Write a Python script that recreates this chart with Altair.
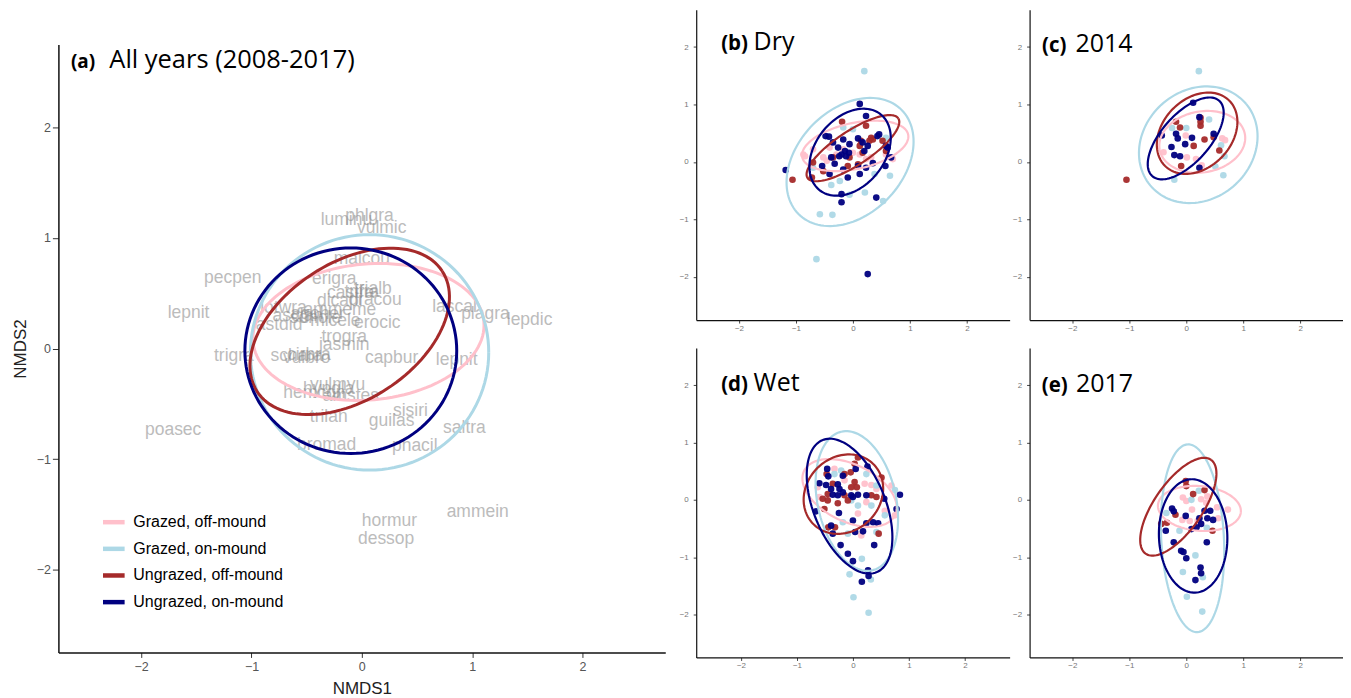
import math
import pandas as pd
import altair as alt

GROUPS = ["Grazed, off-mound", "Grazed, on-mound", "Ungrazed, off-mound", "Ungrazed, on-mound"]
GROUP_KEYS = ["g_off", "g_on", "u_off", "u_on"]
COLORS = ["#FFC0CB", "#ADD8E6", "#A52A2A", "#000080"]
TICKS = [-2, -1, 0, 1, 2]

# species scores shown in panel (a)
SPECIES = ["phlgra", "luminu", "vulmic", "malcou", "pecpen", "erigra", "trialb", "castra",
           "trifra", "dicapi", "dracou", "lotwra", "ammeme", "asclan", "agoher", "sonole",
           "micele", "astdid", "lascal", "plagra", "lepdic", "lepnit", "erocic", "trogra",
           "jasmin", "trigra", "schara", "vulbro", "cirbra", "capbur", "lepnit", "vulmyu",
           "hemcon", "hypgla", "amstes", "sisiri", "trilan", "guilas", "saltra", "bromad",
           "phacil", "poasec", "ammein", "hormur", "dessop"]
SPECIES_X = [0.07, -0.14, 0.18, 0.00, -1.17, -0.25, 0.10, -0.10,
             0.00, -0.20, 0.12, -0.71, -0.20, -0.58, -0.40, -0.42,
             -0.24, -0.75, 0.84, 1.12, 1.52, -1.57, 0.14, -0.16,
             -0.16, -1.16, -0.59, -0.50, -0.48, 0.27, 0.86, -0.22,
             -0.43, -0.30, -0.10, 0.44, -0.30, 0.27, 0.93, -0.32,
             0.48, -1.71, 1.05, 0.25, 0.22]
SPECIES_Y = [1.20, 1.16, 1.09, 0.81, 0.64, 0.63, 0.54, 0.50,
             0.51, 0.43, 0.44, 0.37, 0.35, 0.29, 0.31, 0.28,
             0.25, 0.21, 0.38, 0.31, 0.26, 0.32, 0.23, 0.10,
             0.03, -0.07, -0.07, -0.09, -0.06, -0.09, -0.10, -0.33,
             -0.40, -0.37, -0.43, -0.57, -0.62, -0.66, -0.72, -0.87,
             -0.88, -0.74, -1.48, -1.56, -1.72]

# ellipse parameters per panel, in GROUPS order
ELL_CX = {"a": [0.06, 0.07, -0.11, -0.10], "b": [0.04, -0.05, 0.00, -0.05],
          "c": [0.28, 0.21, 0.19, -0.01], "d": [-0.06, 0.07, -0.17, -0.06],
          "e": [0.23, 0.11, -0.14, 0.12]}
ELL_CY = {"a": [0.15, -0.035, 0.155, -0.02], "b": [0.28, 0.00, 0.24, 0.17],
          "c": [0.35, 0.30, 0.50, 0.41], "d": [0.12, -0.02, 0.10, -0.11],
          "e": [-0.15, -0.67, -0.12, -0.63]}
ELL_A = {"a": [1.05, 1.08, 1.00, 0.96], "b": [0.95, 1.28, 0.95, 0.85],
         "c": [0.76, 1.10, 0.80, 0.88], "d": [0.90, 1.24, 0.75, 1.25],
         "e": [0.73, 1.64, 1.00, 0.99]}
ELL_B = {"a": [0.615, 1.065, 0.62, 0.93], "b": [0.40, 0.92, 0.30, 0.60],
         "c": [0.53, 0.95, 0.60, 0.42], "d": [0.50, 0.70, 0.65, 0.64],
         "e": [0.39, 0.55, 0.42, 0.60]}
ELL_ANGLE = {"a": [5, 0, 33, 0], "b": [12, 45, 33, 50], "c": [10, 40, 45, 48],
             "d": [-25, 103, 40, 113], "e": [-5, 93, 55, 92]}

# site scores for panels (b)-(e)
PTS_X = {
    "b": {
        "g_off": [-0.87, -0.84, -0.70, -0.29, -0.41, -0.17, 0.0, 0.12, 0.58, 0.70, 0.32, -0.52, -0.46, 0.23],
        "g_on": [0.20, -0.64, -0.58, -0.36, -0.06, 0.21, 0.53, 0.65, -0.38, -0.23, -0.70, 0.0, -0.17, 0.58, 0.38],
        "u_off": [-1.06, -0.19, 0.23, 0.32, 0.29, 0.14, 0.35, 0.52, 0.58, 0.12, -0.09, 0.09, -0.35, -0.52, -0.70, -0.72, -0.06, 0.17],
        "u_on": [-1.18, 0.12, 0.23, -0.48, -0.42, -0.35, -0.17, -0.26, -0.06, -0.14, -0.20, -0.07, -0.38, -0.32, -0.24, -0.12, 0.09, 0.17, 0.26, 0.20, 0.46, 0.43, 0.58, 0.61, 0.35, 0.09, -0.09, -0.17, -0.54, -0.41, -0.20, -0.20, 0.41, 0.26, 0.57, 0.67, 0.23, 0.12],
    },
    "c": {
        "g_off": [-0.01, -0.40, 0.01, 0.17, 0.68, 0.63, 0.27],
        "g_on": [0.22, 0.40, -0.25, 0.0, 0.61, 0.67, 0.51, 0.65, -0.21],
        "u_off": [-1.05, -0.18, -0.11, 0.25, 0.25, 0.25, 0.32, 0.48, 0.13, 0.58, -0.09],
        "u_on": [0.12, 0.23, -0.43, -0.18, -0.15, 0.10, -0.02, -0.26, -0.21, -0.11, 0.48, 0.23],
    },
    "d": {
        "g_off": [-0.33, -0.15, 0.21, 0.33, 0.42, 0.51, 0.69, 0.75, 0.24, 0.09, 0.57, 0.15, -0.63, -0.60],
        "g_on": [-0.21, -0.33, 0.24, 0.42, 0.75, 0.57, 0.33, -0.03, 0.09, -0.09, -0.18, 0.16, -0.06, 0.32, 0.01, 0.28, 0.42],
        "u_off": [-0.47, -0.15, 0.09, 0.03, -0.04, 0.03, 0.07, -0.03, -0.15, -0.09, -0.45, -0.54, -0.45, -0.27, 0.33, 0.42, 0.51, -0.51, -0.44, -0.32, 0.46, -0.36],
        "u_on": [-0.46, -0.44, -0.60, -0.48, -0.39, -0.27, -0.24, -0.36, -0.27, -0.18, -0.03, 0.0, 0.09, 0.05, 0.26, -0.18, -0.66, -0.25, -0.39, -0.36, -0.22, -0.09, 0.0, 0.0, 0.04, 0.18, 0.24, 0.36, 0.45, 0.38, 0.27, 0.28, 0.16, 0.84, 0.78, 0.56, 0.24],
    },
    "e": {
        "g_off": [-0.06, 0.0, 0.26, 0.37, 0.35, 0.10, -0.07, 0.06, 0.54, 0.73, 0.20, 0.56],
        "g_on": [0.22, 0.09, -0.35, -0.12, 0.16, -0.06, 0.01, 0.28, 0.29, 0.36],
        "u_off": [-0.01, 0.0, 0.12, 0.32, -0.19, -0.44, -0.34, 0.46],
        "u_on": [-0.25, -0.22, -0.36, -0.01, 0.23, 0.26, 0.18, 0.09, 0.32, 0.42, 0.37, 0.47, 0.36, -0.22, -0.09, -0.05, 0.0, 0.25, 0.26, 0.16],
    },
}
PTS_Y = {
    "b": {
        "g_off": [0.13, 0.10, 0.22, 0.13, 0.25, 0.22, 0.16, 0.13, 0.13, 0.05, 0.08, 0.08, 0.02, 0.05],
        "g_on": [1.58, -1.69, -0.91, -0.92, -0.57, -0.53, -0.68, -0.24, -0.40, -0.33, -0.10, 0.57, 0.60, 0.42, -0.21],
        "u_off": [-0.31, 0.70, 0.63, 0.42, 0.37, 0.37, 0.39, 0.37, 0.19, 0.28, -0.07, -0.04, 0.08, -0.16, -0.01, -0.27, 0.08, 0.16],
        "u_on": [-0.14, 1.01, 0.80, 0.45, 0.44, 0.34, 0.39, 0.25, 0.31, 0.19, 0.13, 0.16, 0.08, -0.03, 0.10, 0.10, 0.41, 0.34, 0.28, 0.19, 0.48, 0.45, 0.28, 0.25, -0.02, -0.07, -0.27, -0.13, -0.07, -0.21, -0.56, -0.70, -0.62, -1.95, -0.07, 0.08, -0.10, -0.21],
    },
    "c": {
        "g_off": [0.46, 0.17, 0.08, 0.05, 0.38, 0.41, -0.06],
        "g_on": [1.58, 0.74, 0.59, 0.59, 0.29, 0.10, -0.08, -0.23, -0.31],
        "u_off": [-0.31, 0.70, 0.60, 0.77, 0.70, 0.63, 0.39, 0.43, 0.28, 0.20, -0.07],
        "u_on": [1.03, 0.78, 0.46, 0.49, 0.41, 0.42, 0.31, 0.26, 0.12, 0.10, 0.49, -0.10],
    },
    "d": {
        "g_off": [0.54, 0.34, 0.28, 0.26, 0.19, 0.37, 0.25, -0.27, -0.04, -0.24, -0.19, -0.62, 0.22, 0.05],
        "g_on": [0.51, 0.45, 0.45, 0.25, 0.17, -0.27, -0.10, -0.01, -0.10, -0.59, -0.39, -1.03, -1.30, -1.39, -1.70, -1.97, -0.56],
        "u_off": [0.45, 0.45, 0.74, 0.63, 0.48, 0.31, 0.22, 0.22, 0.08, -0.01, 0.10, 0.02, -0.01, -0.06, 0.08, 0.05, 0.39, -0.16, -0.48, -0.48, -0.59, 0.28],
        "u_on": [0.54, 0.41, 0.29, 0.26, 0.19, 0.27, 0.19, 0.09, 0.08, 0.13, 0.08, 0.05, 0.09, 0.54, 0.58, 0.42, -0.20, -0.23, -0.45, -0.59, -0.79, -0.94, -1.07, -0.36, -0.56, -0.55, -0.41, -0.39, -0.41, -0.79, -1.23, -1.33, -1.43, 0.09, -0.16, 0.02, 0.08],
    },
    "e": {
        "g_off": [0.04, -0.02, 0.01, 0.06, -0.05, -0.17, -0.35, -0.37, -0.13, -0.17, -0.37, -0.32],
        "g_on": [0.16, 0.0, -0.23, -0.54, -0.97, -1.26, -1.69, -1.95, -1.35, -0.49],
        "u_off": [0.33, 0.24, 0.10, 0.17, -0.26, -0.42, -0.40, -0.54],
        "u_on": [-0.15, -0.20, -0.54, -0.28, -0.32, -0.42, -0.48, -0.51, -0.19, -0.19, -0.32, -0.35, -0.74, -0.74, -0.89, -0.91, -1.02, -1.18, -1.28, -1.40],
    },
}

TITLES = {"a": ("(a)", "All years (2008-2017)"), "b": ("(b)", "Dry"), "c": ("(c)", "2014"),
          "d": ("(d)", "Wet"), "e": ("(e)", "2017")}

# ---------------------------------------------------------------- helpers
def ellipse_df(key, n=120):
    rows = []
    for g, cx, cy, a, b, ang in zip(GROUPS, ELL_CX[key], ELL_CY[key], ELL_A[key], ELL_B[key], ELL_ANGLE[key]):
        th = math.radians(ang)
        for i in range(n + 1):
            t = 2 * math.pi * i / n
            x = cx + a * math.cos(t) * math.cos(th) - b * math.sin(t) * math.sin(th)
            y = cy + a * math.cos(t) * math.sin(th) + b * math.sin(t) * math.cos(th)
            rows.append({"group": g, "x": x, "y": y, "i": i})
    return pd.DataFrame(rows)


def points_df(key):
    rows = []
    for g, k in zip(GROUPS, GROUP_KEYS):
        for x, y in zip(PTS_X[key][k], PTS_Y[key][k]):
            rows.append({"group": g, "x": x, "y": y})
    return pd.DataFrame(rows)


color_scale = alt.Scale(domain=GROUPS, range=COLORS)
FONT = "Liberation Sans"


def title_layers(key, lx, mx, by, lsize, msize):
    lab, main = TITLES[key]
    t1 = alt.Chart(pd.DataFrame({"t": [lab]})).mark_text(
        align="left", baseline="alphabetic", font="Open Sans", fontWeight="bold",
        fontSize=lsize, color="black").encode(x=alt.value(lx), y=alt.value(by), text="t:N")
    t2 = alt.Chart(pd.DataFrame({"t": [main]})).mark_text(
        align="left", baseline="alphabetic", font="Open Sans",
        fontSize=msize, color="black").encode(x=alt.value(mx), y=alt.value(by), text="t:N")
    return [t1, t2]


# ---------------------------------------------------------------- panel (a)
big_x = alt.X("x:Q", scale=alt.Scale(domain=[-2.75, 2.75], nice=False, zero=False),
              axis=alt.Axis(values=TICKS, title="NMDS1", grid=False, labelFont=FONT,
                            labelFontSize=12.5, labelColor="#555555", tickSize=5,
                            tickColor="#333333", domainColor="#111111", domainWidth=1.5,
                            labelPadding=3, titleFont=FONT, titleFontSize=17,
                            titleFontWeight="normal", titleColor="#222222", titlePadding=8))
big_y = alt.Y("y:Q", scale=alt.Scale(domain=[-2.75, 2.75], nice=False, zero=False),
              axis=alt.Axis(values=TICKS, title="NMDS2", grid=False, labelFont=FONT,
                            labelFontSize=12.5, labelColor="#555555", tickSize=6,
                            tickColor="#333333", domainColor="#111111", domainWidth=1.5,
                            labelPadding=2, titleFont=FONT, titleFontSize=17,
                            titleFontWeight="normal", titleColor="#222222", titlePadding=7))

species_df = pd.DataFrame({"label": SPECIES, "x": SPECIES_X, "y": SPECIES_Y})
sp_layer = alt.Chart(species_df).mark_text(
    font=FONT, fontSize=17.5, color="#8c8c8c", opacity=0.58, align="center", baseline="middle"
).encode(x=big_x, y=big_y, text="label:N")

ell_a = alt.Chart(ellipse_df("a")).mark_line(strokeWidth=3, clip=True).encode(
    x=big_x, y=big_y,
    color=alt.Color("group:N", scale=color_scale, sort=GROUPS,
                    legend=alt.Legend(title=None, orient="none", legendX=42, legendY=465,
                                      symbolType="stroke", symbolStrokeWidth=4.5,
                                      symbolSize=470, labelFont=FONT, labelFontSize=16,
                                      labelColor="black", labelOffset=6, rowPadding=3.7,
                                      padding=0)),
    order="i:Q")

panel_a = alt.layer(sp_layer, ell_a, *title_layers("a", 12.5, 51, 23, 19, 25.5)).properties(
    width=608, height=609)


# ---------------------------------------------------------------- small panels
def small_panel(key, xdom, width, height, tpos):
    sx = alt.X("x:Q", scale=alt.Scale(domain=xdom, nice=False, zero=False),
               axis=alt.Axis(values=TICKS, title=None, grid=False, labelFont=FONT,
                             labelFontSize=8, labelColor="#777777", tickSize=3,
                             tickColor="#444444", domainColor="#111111", domainWidth=1.2,
                             labelPadding=1.5))
    sy = alt.Y("y:Q", scale=alt.Scale(domain=[-2.75, 2.65], nice=False, zero=False),
               axis=alt.Axis(values=TICKS, title=None, grid=False, labelFont=FONT,
                             labelFontSize=8, labelColor="#777777", tickSize=3,
                             tickColor="#444444", domainColor="#111111", domainWidth=1.2,
                             labelPadding=5))
    pts = alt.Chart(points_df(key)).mark_circle(size=44, opacity=0.95, clip=True).encode(
        x=sx, y=sy, color=alt.Color("group:N", scale=color_scale, legend=None))
    ell = alt.Chart(ellipse_df(key)).mark_line(strokeWidth=2.2, clip=True).encode(
        x=sx, y=sy, color=alt.Color("group:N", scale=color_scale, legend=None), order="i:Q")
    lx, mx, by = tpos
    return alt.layer(pts, ell, *title_layers(key, lx, mx, by, 20.5, 25)).properties(
        width=width, height=height)


panel_b = small_panel("b", [-2.75, 2.75], 314, 311, (25, 57.5, 40.7))
panel_c = small_panel("c", [-2.75, 2.75], 314, 311, (12.5, 46, 42.3))
panel_d = small_panel("d", [-2.8, 2.8], 314, 310, (25, 57.5, 42.7))
panel_e = small_panel("e", [-2.75, 2.75], 314, 310, (12.2, 46.5, 43.7))

spacer = alt.Chart(pd.DataFrame({"v": [0]})).mark_text(text=" ", opacity=0).encode(
    x=alt.value(300), y=alt.value(16)).properties(width=608, height=34.3)

res = dict(color="independent", x="independent", y="independent")
left_col = alt.vconcat(spacer, panel_a, spacing=0).resolve_scale(**res)
row1 = alt.hconcat(panel_b, panel_c, spacing=2).resolve_scale(**res)
row2 = alt.hconcat(panel_d, panel_e, spacing=2).resolve_scale(**res)
grid = alt.vconcat(row1, row2, spacing=15).resolve_scale(**res)

chart = alt.hconcat(left_col, grid, spacing=13).resolve_scale(**res).properties(
    padding={"left": 2.5, "top": 1, "right": 0, "bottom": 0}, background="white"
).configure_view(strokeWidth=0, stroke="transparent")

chart.save("out.html", embed_options={"renderer": "svg", "actions": False})
